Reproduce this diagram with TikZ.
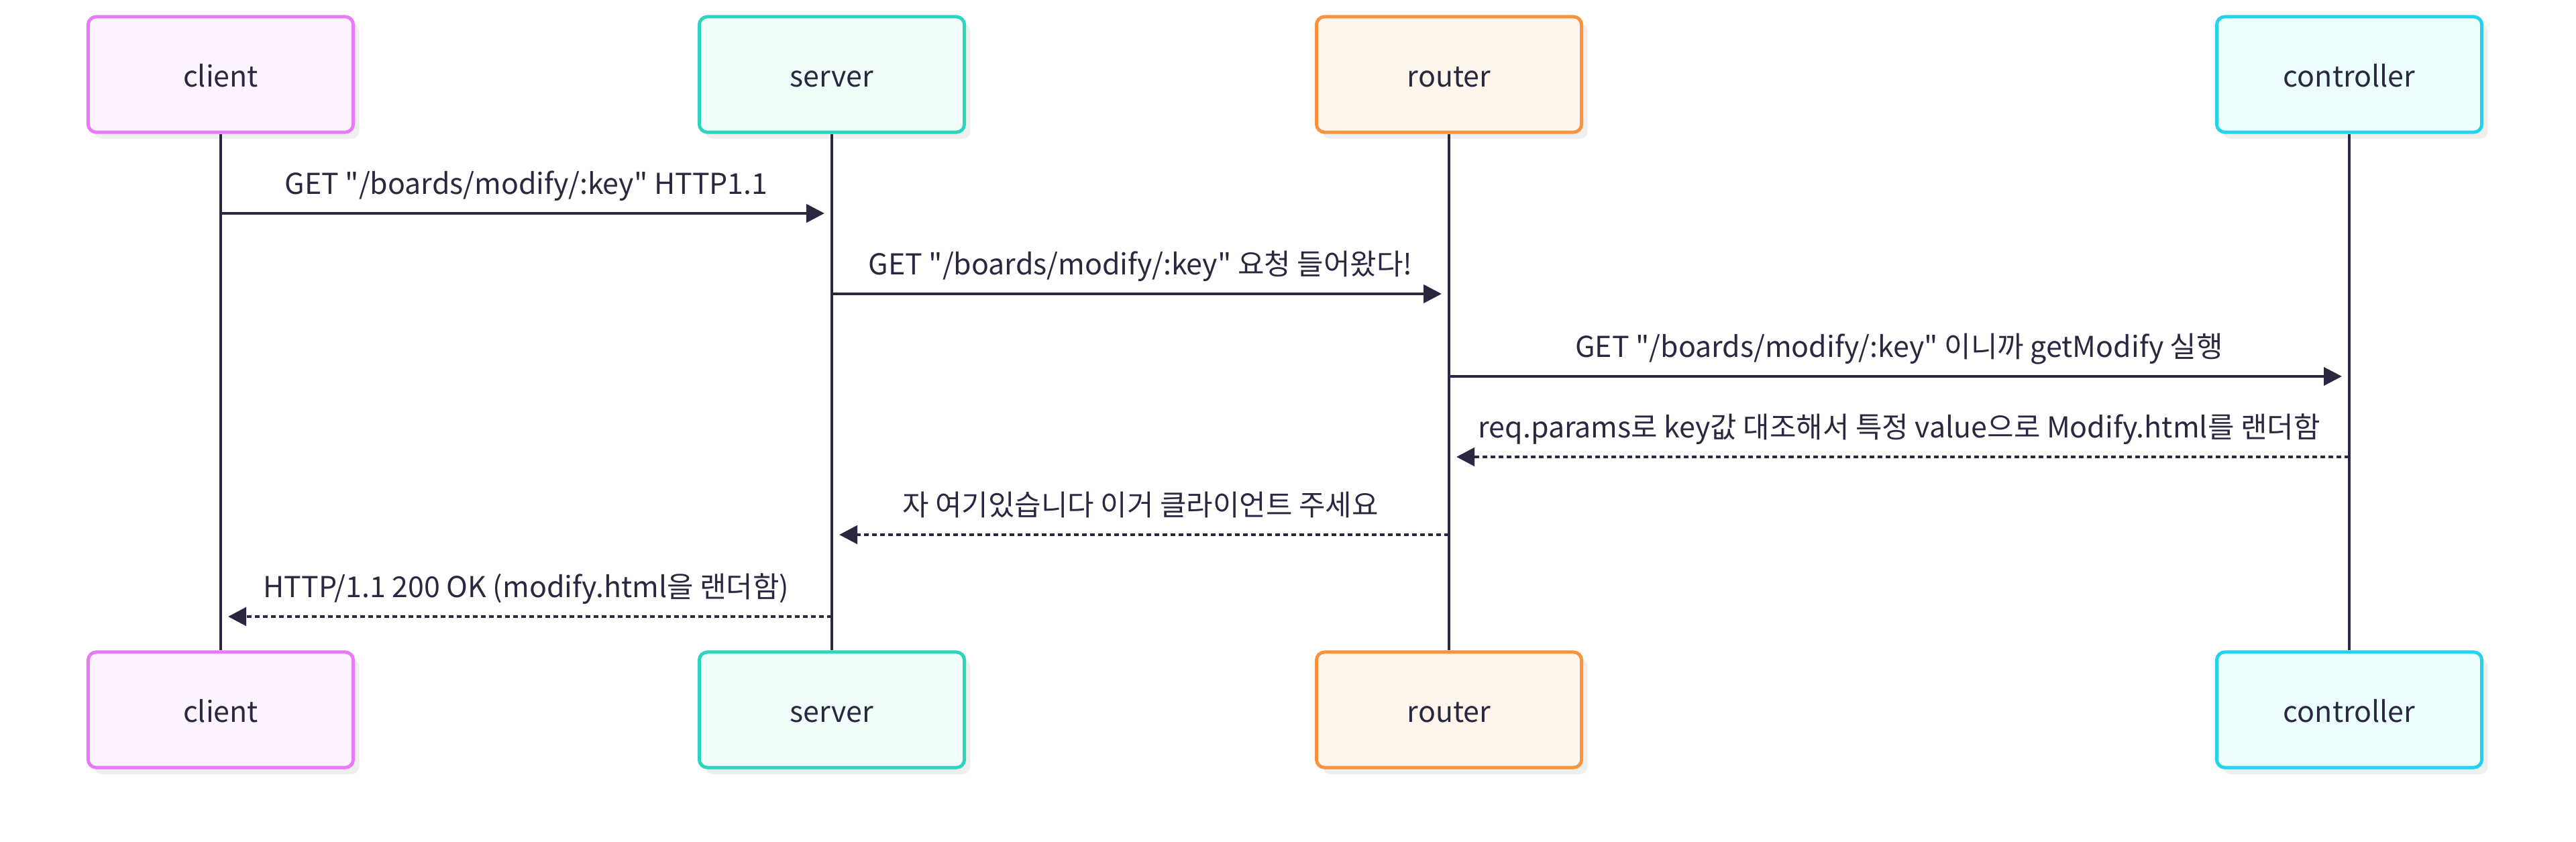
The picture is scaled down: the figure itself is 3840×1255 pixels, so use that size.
\documentclass[tikz,border=0pt]{standalone}
\usepackage{fontspec}
\newfontfamily\krfont{Noto Sans CJK KR}
\usetikzlibrary{positioning,arrows.meta,shadows}
\definecolor{ink}{RGB}{42,40,64}
\definecolor{clientline}{RGB}{232,121,249}
\definecolor{clientfill}{RGB}{253,244,255}
\definecolor{serverline}{RGB}{45,212,191}
\definecolor{serverfill}{RGB}{240,253,250}
\definecolor{routerline}{RGB}{251,146,60}
\definecolor{routerfill}{RGB}{255,247,237}
\definecolor{ctrlline}{RGB}{34,211,238}
\definecolor{ctrlfill}{RGB}{236,254,255}
\definecolor{shade}{RGB}{239,239,239}
\newcommand*{\msgfont}{\krfont\fontsize{12.2pt}{14pt}\selectfont}
\tikzset{%
  actor/.style={draw, rectangle, rounded corners=0.12cm, line width=1.4pt,
    minimum width=3.95cm, minimum height=1.72cm, inner sep=0pt, text=ink, font=\msgfont,
    text height=11pt, text depth=0.4pt,
    drop shadow={shadow xshift=0.09cm, shadow yshift=-0.1cm, fill=shade, opacity=1}},% participant box
  lifeline/.style={draw=ink, line width=0.9pt},% vertical line under a participant
  call/.style={draw=ink, line width=1.2pt, -{Triangle[length=0.27cm,width=0.27cm]},
    shorten >=0.11cm},% request arrow
  reply/.style={call, line width=1.4pt, dash pattern=on 0.07cm off 0.05cm},% response arrow
  msglabel/.style={anchor=base, text=ink, font=\msgfont, yshift=0.28cm}% text over an arrow
}

\begin{document}
\begin{tikzpicture}[x=0.01cm, y=-0.01cm]
\useasboundingbox (0,0) rectangle (3840,1255);

% participants
\node[actor, draw=clientline, fill=clientfill] (clientT) at (329,111) {client};
\node[actor, draw=serverline, fill=serverfill] (serverT) at (1240,111) {server};
\node[actor, draw=routerline, fill=routerfill] (routerT) at (2160,111) {router};
\node[actor, draw=ctrlline, fill=ctrlfill] (ctrlT) at (3502,111) {controller};

\node[actor, draw=clientline, fill=clientfill] (clientB) at (329,1058) {client};
\node[actor, draw=serverline, fill=serverfill] (serverB) at (1240,1058) {server};
\node[actor, draw=routerline, fill=routerfill] (routerB) at (2160,1058) {router};
\node[actor, draw=ctrlline, fill=ctrlfill] (ctrlB) at (3502,1058) {controller};

\draw[lifeline] (clientT) -- (clientB);
\draw[lifeline] (serverT) -- (serverB);
\draw[lifeline] (routerT) -- (routerB);
\draw[lifeline] (ctrlT) -- (ctrlB);

% message rows
\coordinate (m1) at (0,318);
\coordinate (m2) at (0,438);
\coordinate (m3) at (0,561);
\coordinate (m4) at (0,681);
\coordinate (m5) at (0,797);
\coordinate (m6) at (0,919);

\draw[call] (clientT |- m1) -- node[msglabel] {GET "/boards/modify/:key" HTTP1.1} (serverT |- m1);
\draw[call] (serverT |- m2) -- node[msglabel] {GET "/boards/modify/:key" 요청 들어왔다!} (routerT |- m2);
\draw[call] (routerT |- m3) -- node[msglabel] {GET "/boards/modify/:key" 이니까 getModify 실행} (ctrlT |- m3);
\draw[reply] (ctrlT |- m4) -- node[msglabel] {req.params로 key값 대조해서 특정 value으로 Modify.html를 랜더함} (routerT |- m4);
\draw[reply] (routerT |- m5) -- node[msglabel] {자 여기있습니다 이거 클라이언트 주세요} (serverT |- m5);
\draw[reply] (serverT |- m6) -- node[msglabel] {HTTP/1.1 200 OK (modify.html을 랜더함)} (clientT |- m6);

\end{tikzpicture}
\end{document}
